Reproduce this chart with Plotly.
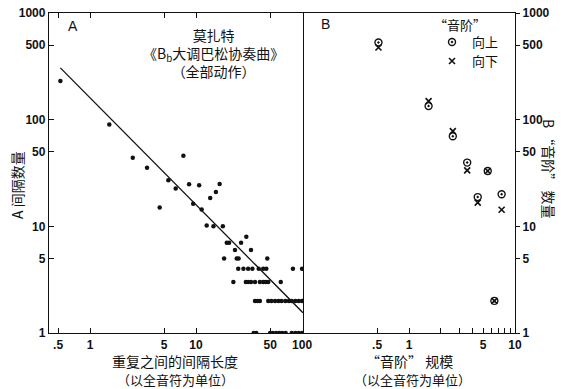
import plotly.graph_objects as go

# ---------------- data ----------------
# Panel A: gap length between repeats (whole notes) vs. number of gaps
gap_len = [0.525, 1.52, 2.53, 3.45, 4.54, 5.48, 6.43, 7.6, 8.6, 9.4, 10.7, 11.3, 12.6, 13.6,
           14.6, 15.4, 16.7, 17.9, 18.4, 19.5, 20.5, 22.5, 23.3, 24.2, 25.2, 26.6, 29.8, 33, 47,
           25, 28, 31, 34, 39, 43, 46, 82, 100,
           29.5, 31, 33, 36, 40, 43, 45.5, 48, 63,
           36, 38, 40, 48, 51.5, 55.7, 60, 64, 69.5, 75, 80, 86.5, 93, 100,
           35, 37, 50, 53, 57, 61, 65, 70, 80, 86.5, 93, 100]
gap_count = [231, 90, 44, 35.5, 15, 27, 22.6, 46, 24.8, 16.3, 24.3, 14.4, 10.2, 18.4,
             10, 21, 25, 10, 5, 7, 7, 3, 6, 5, 5, 7, 8, 6, 5,
             4, 4, 4, 4, 4, 4, 4, 4, 4,
             3, 3, 3, 3, 3, 3, 3, 3, 3,
             2, 2, 2, 2, 2, 2, 2, 2, 2, 2, 2, 2, 2, 2,
             1, 1, 1, 1, 1, 1, 1, 1, 1, 1, 1, 1]
fit_x = [0.525, 102]
fit_y = [306, 1.55]

# Panel B: "scale" size vs. number of scales
scale_size = [0.515, 1.53, 2.59, 3.54, 4.45, 5.53, 6.39, 7.48]
scale_up = [529, 134, 70, 39.6, 18.8, 33, 2, 20]
scale_down = [475, 149, 78, 33.5, 16.7, 33, 2, 14.3]

y_tickvals = [1, 5, 10, 50, 100, 500, 1000]
y_ticktext = ["1", "5", "10", "50", "100", "500", "1000"]
xa_tickvals = [0.5, 1, 5, 10, 50, 100]
xa_ticktext = [".5", "1", "5", "10", "50", "100"]
xb_tickvals = [0.5, 1, 5, 10]
xb_ticktext = [".5", "1", "5", "10"]
xb_minorvals = [2, 3, 4, 6, 7, 8, 9]

# ---------------- figure ----------------
INK = "#111111"
CJK = "Noto Sans CJK SC"
NUM = "Liberation Sans"

fig = go.Figure()
fig.add_trace(go.Scatter(x=gap_len, y=gap_count, mode="markers",
                         marker=dict(size=4.5, color=INK), xaxis="x", yaxis="y",
                         showlegend=False))
fig.add_trace(go.Scatter(x=fit_x, y=fit_y, mode="lines",
                         line=dict(color=INK, width=1.3), xaxis="x", yaxis="y",
                         showlegend=False))
fig.add_trace(go.Scatter(x=scale_size, y=scale_up, mode="markers", name="向上",
                         marker=dict(symbol="circle-open-dot", size=7, color=INK,
                                     line=dict(width=1.4)),
                         xaxis="x2", yaxis="y2", legend="legend"))
fig.add_trace(go.Scatter(x=scale_size, y=scale_down, mode="markers", name="向下",
                         marker=dict(symbol="x-thin-open", size=6, color=INK,
                                     line=dict(width=1.6, color=INK)),
                         xaxis="x2", yaxis="y2", legend="legend2"))

L, R, T, B = 49, 51, 13, 56
W, H = 566, 389
PW, PH = W - L - R, H - T - B
split = (303 - L) / PW


def px(xp):
    return (xp - L) / PW


def py(yp):
    return (H - B - yp) / PH


axis_common = dict(type="log", showgrid=False, zeroline=False, showline=True,
                   linecolor=INK, linewidth=1.3, tickcolor=INK, tickwidth=1.2,
                   automargin=False,
                   tickfont=dict(family=NUM, size=12, color=INK, weight="bold"))

legend_common = dict(xanchor="left", yanchor="middle", bgcolor="rgba(0,0,0,0)",
                     font=dict(family=CJK, size=13, color=INK), itemwidth=30)

fig.update_layout(
    width=W, height=H,
    margin=dict(l=L, r=R, t=T, b=B, autoexpand=False),
    paper_bgcolor="white", plot_bgcolor="white",
    font=dict(family=CJK, color=INK, size=14),
    xaxis=dict(axis_common, domain=[0, split], range=[-0.387, 2.009],
               tickvals=xa_tickvals, ticktext=xa_ticktext, ticks="inside",
               ticklen=5, mirror="ticks", anchor="y"),
    yaxis=dict(axis_common, domain=[0, 1], range=[0, 3], tickvals=y_tickvals,
               ticktext=y_ticktext, ticks="inside", ticklen=5, mirror=True,
               anchor="x"),
    xaxis2=dict(axis_common, domain=[split, 1], range=[-1, 1],
                tickvals=xb_tickvals, ticktext=xb_ticktext, ticks="inside",
                ticklen=5, mirror=True, anchor="y2",
                minor=dict(tickvals=xb_minorvals, ticks="inside", ticklen=5,
                           tickcolor=INK, tickwidth=1.2)),
    yaxis2=dict(axis_common, domain=[0, 1], range=[0, 3], tickvals=y_tickvals,
                ticktext=y_ticktext, ticks="outside", ticklen=4, side="right",
                anchor="x2"),
    legend=dict(legend_common, x=px(432), y=py(42)),
    legend2=dict(legend_common, x=px(432), y=py(61)),
    showlegend=True,
)

annos = [
    dict(text="A", x=px(72.5), y=py(26), font=dict(family=NUM, size=14)),
    dict(text="B", x=px(325), y=py(24), font=dict(family=NUM, size=14)),
    dict(text="莫扎特<br>《B<sub>b</sub>大调巴松协奏曲》<br>（全部动作）",
         x=px(213), y=py(23), yanchor="top", font=dict(family=CJK, size=14)),
    dict(text="“音阶”", x=px(460), y=py(24), font=dict(family=CJK, size=13)),
    dict(text="重复之间的间隔长度", x=px(175), y=py(361), font=dict(family=CJK, size=14)),
    dict(text="（以全音符为单位）", x=px(175), y=py(379), font=dict(family=CJK, size=13)),
    dict(text="“音阶” 规模", x=px(409), y=py(361), font=dict(family=CJK, size=14)),
    dict(text="（以全音符为单位）", x=px(412), y=py(379), font=dict(family=CJK, size=13)),
    dict(text="A 间隔数量", x=px(17), y=py(185), textangle=-90, font=dict(family=CJK, size=14)),
    dict(text="B “音阶” 数量", x=px(549), y=py(168), textangle=90, font=dict(family=CJK, size=14)),
]
for a in annos:
    a.setdefault("yanchor", "middle")
    fig.add_annotation(xref="paper", yref="paper", showarrow=False, xanchor="center",
                       font_color=INK, **a)

fig.write_html(
    "out.html",
    config={"displayModeBar": False},
    post_script="document.body.style.margin='0';document.body.style.padding='0';"
                "document.documentElement.style.overflow='hidden';",
)
